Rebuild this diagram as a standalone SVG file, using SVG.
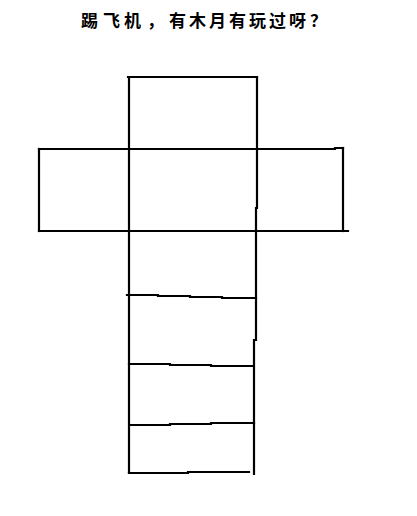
<svg xmlns="http://www.w3.org/2000/svg" width="417" height="516" viewBox="0 0 417 516">
<style>
.ln{fill:none;stroke:#000;stroke-width:2.2;stroke-linecap:square;stroke-linejoin:miter}
.t{font-family:"Noto Sans CJK SC","Noto Sans",sans-serif;font-size:17px;font-weight:bold;fill:#000}
</style>
<rect width="417" height="516" fill="#fff"/>
<text class="t" x="81 103 124 147 169 189 209 229 249 269 289 310" y="27">踢飞机，有木月有玩过呀？</text>
<g id="grid">
<path class="ln" d="M128,77 H257"/>
<path class="ln" d="M129,77 V473"/>
<path class="ln" d="M257,77 V208 M256,208 V340 M254,340 V474"/>
<path class="ln" d="M39,149 H335 V148 H343"/>
<path class="ln" d="M39,149 V231"/>
<path class="ln" d="M343,148 V231"/>
<path class="ln" d="M39,231 H348"/>
<path class="ln" d="M127,295 H158 V296 H190 V297 H222 V298 H256"/>
<path class="ln" d="M129,364 H170 V365 H211 V366 H253"/>
<path class="ln" d="M130,425 H170 V424 H211 V423 H254"/>
<path class="ln" d="M129,473 H188 V472 H249"/>
</g>
</svg>
